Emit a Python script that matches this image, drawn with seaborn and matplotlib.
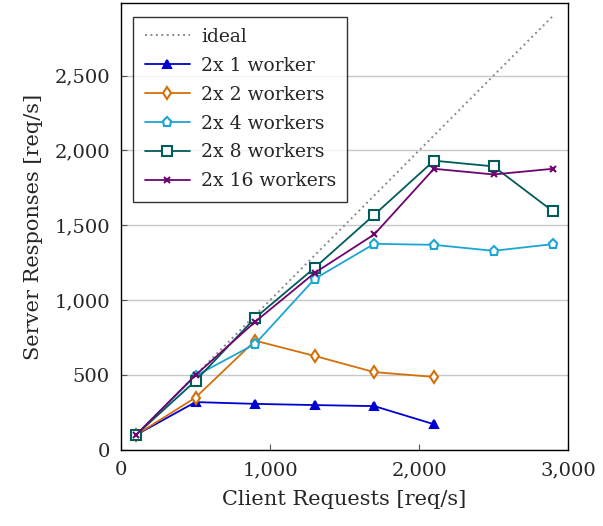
import matplotlib
matplotlib.use("Agg")
import matplotlib.pyplot as plt
import seaborn as sns
from matplotlib.ticker import FuncFormatter

# client request rates
requests = [100, 500, 900, 1300, 1700, 2100, 2500, 2900]
ideal = [100, 2900]

# server responses per configuration
w1 = [100, 320, 308, 300, 293, 172]
w2 = [100, 350, 730, 628, 520, 488]
w4 = [100, 495, 708, 1143, 1377, 1370, 1330, 1375]
w8 = [100, 462, 882, 1217, 1571, 1932, 1894, 1593]
w16 = [100, 500, 856, 1183, 1440, 1878, 1840, 1878]

labels = ["2x 1 worker", "2x 2 workers", "2x 4 workers", "2x 8 workers", "2x 16 workers"]

sns.set_theme(style="white")
plt.rcParams["font.family"] = ["DejaVu Serif"]

fig = plt.figure(figsize=(6.03, 5.26), dpi=100)
ax = fig.add_axes([0.2007, 0.1445, 0.7413, 0.8498])

ax.grid(axis="y", color="#c8c8c8", linewidth=1)
ax.set_axisbelow(True)

sns.lineplot(x=ideal, y=ideal, ax=ax, color="#8a8a8a", linestyle=(0, (1, 1.8)),
             linewidth=1.4, label="ideal")

styles = [
    (w1, "#0000d0", "^", "#0000d0", 6),
    (w2, "#d4700a", "d", "white", 6),
    (w4, "#1aa6d4", "p", "white", 6.5),
    (w8, "#005c5a", "s", "white", 6.5),
    (w16, "#6e0470", "x", "#6e0470", 5),
]
for (vals, col, mk, face, ms), lab in zip(styles, labels):
    sns.lineplot(x=requests[:len(vals)], y=vals, ax=ax, color=col, marker=mk,
                 markerfacecolor=face, markeredgecolor=col, markersize=ms,
                 markeredgewidth=1.5, linewidth=1.3, label=lab)

ax.set_xlim(0, 3000)
ax.set_ylim(0, 2985)
ax.set_xticks([0, 1000, 2000, 3000])
ax.set_yticks([0, 500, 1000, 1500, 2000, 2500])
fmt = FuncFormatter(lambda v, p: f"{int(v):,}")
ax.xaxis.set_major_formatter(fmt)
ax.yaxis.set_major_formatter(fmt)
ax.tick_params(direction="in", length=4, width=0.8, color="#555555", labelsize=14,
               bottom=True, left=True, pad=8)

for s in ax.spines.values():
    s.set_color("black")
    s.set_linewidth(1.0)

ax.set_xlabel("Client Requests [req/s]", fontsize=15, labelpad=8)
ax.set_ylabel("Server Responses [req/s]", fontsize=15, labelpad=8)

leg = ax.legend(loc="upper left", bbox_to_anchor=(0.015, 0.982), fontsize=13.5,
                frameon=True, fancybox=False, edgecolor="black", handlelength=2.4,
                labelspacing=0.58, borderpad=0.6, handletextpad=0.6, borderaxespad=0.3)
leg.get_frame().set_linewidth(1.0)

fig.savefig("out.png", dpi=100)
